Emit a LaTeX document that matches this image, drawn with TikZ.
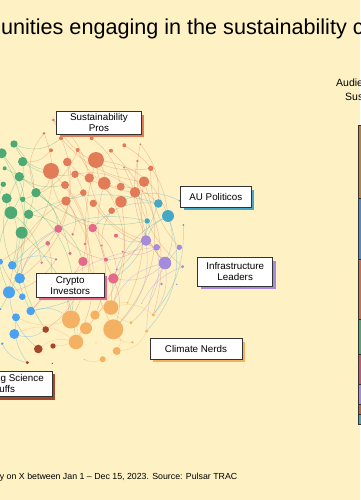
\documentclass[tikz,border=0pt]{standalone}
\usepackage{fontspec}
\setmainfont{Liberation Sans}
\usetikzlibrary{shadows}
\definecolor{bgc}{RGB}{254,242,197}
\definecolor{cR}{HTML}{E27B57}
\definecolor{cG}{HTML}{4DAA74}
\definecolor{cT}{HTML}{46A8C6}
\definecolor{cP}{HTML}{A68BDD}
\definecolor{cK}{HTML}{E56A8A}
\definecolor{cO}{HTML}{F4B163}
\definecolor{cB}{HTML}{A5472A}
\definecolor{cU}{HTML}{4BA3EF}
\definecolor{cTop}{HTML}{B98241}
\definecolor{cBar}{HTML}{4A8FCB}
\pgfdeclarelayer{bg}
\pgfdeclarelayer{edges}
\pgfsetlayers{bg,edges,main}
\tikzset{
  dot/.style={circle, inner sep=0pt, draw=none},
  edge/.style={line width=0.5pt, draw opacity=0.4},
  lab/.style={draw=black!80, fill=white, line width=0.8pt, align=center, inner sep=0pt,
    font=\fontsize{9.8}{11}\selectfont,
    general shadow={fill=#1, shadow xshift=3pt, shadow yshift=-3pt}},
  seg/.style={draw=black!80, line width=0.6pt}
}
\begin{document}
\begin{tikzpicture}[x=1pt,y=-1pt]
\useasboundingbox (0,0) rectangle (360,500);
\begin{pgfonlayer}{bg}
\fill[bgc] (0,0) rectangle (360,500);
\end{pgfonlayer}

% title and notes
\node[anchor=base west, inner sep=0pt, font=\fontsize{21.6}{24}\selectfont] (title) at (-62.7,35)
  {Communities engaging in the sustainability conversation};
\node[anchor=base west, inner sep=0pt, font=\fontsize{8.8}{10}\selectfont] (note) at (-0.3,479.5)
  {y on X between Jan 1 – Dec 15, 2023. Source: Pulsar TRAC};
\node[anchor=base west, inner sep=0pt, font=\fontsize{10.5}{12}\selectfont] (aud1) at (336,87) {Audience};
\node[anchor=base west, inner sep=0pt, font=\fontsize{10.5}{12}\selectfont] (aud2) at (345,101) {Sustainability};

% stacked bar
\fill[cTop] (358.5,125) rectangle (366,198);
\fill[cBar] (358.5,198) rectangle (366,259);
\fill[cR!90!black] (358.5,259) rectangle (366,319);
\fill[cG] (358.5,319) rectangle (366,354);
\fill[cK!85!black] (358.5,354) rectangle (366,384);
\fill[cP] (358.5,384) rectangle (366,404);
\fill[cB!70!cO] (358.5,404) rectangle (366,414);
\fill[cT] (358.5,414) rectangle (366,424);
\foreach \ya/\yb in {125/198,198/259,259/319,319/354,354/384,384/404,404/414,414/424}
  \draw[seg] (366,\ya) -- (358.5,\ya) -- (358.5,\yb) -- (366,\yb);

% dots
\foreach \n/\x/\y/\r/\c in {
 r1/53.3/120/1.5/cR, r2/44/133.3/1.5/cR, r3/61/138.3/2/cR, r4/91.7/138.3/2/cR,
 r5/51/150.3/2/cR, r6/77.7/150/2/cR, r7/111/150.7/2/cR, r8/124.3/145.3/2/cR,
 r9/140.3/144.3/1/cR, r10/96/160/8/cR, r11/67.3/162/4.3/cR, r12/51/171/8/cR,
 r13/75/174.3/3.7/cR, r14/89.3/178/4.7/cR, r15/104.3/183.3/6.3/cR, r16/120.7/186.7/4/cR,
 r17/144/181.7/5.3/cR, r18/150.7/168.3/2.7/cR, r19/137.3/161/1.3/cR, r20/124/167.7/1/cR,
 r21/65/185/4/cR, r22/83.3/192.7/3.3/cR, r23/66/201/4.7/cR, r24/93.3/203.3/3.7/cR,
 r25/121/201.7/5.7/cR, r26/135/192.3/5.3/cR, r27/111.7/210.7/3.3/cR,
 g1/14/144/3.7/cG, g2/1.7/153.3/5/cG, g3/22.7/161.7/4.7/cG, g4/4.7/168.3/2/cG,
 g5/19.3/176.7/4.7/cG, g6/3.3/184.3/2.7/cG, g7/36/192.7/4.7/cG, g8/6.7/198.3/5/cG,
 g9/22.7/199.3/2.7/cG, g10/11/212.7/6.3/cG, g11/28.7/214.3/4.7/cG, g12/21.7/232.7/6/cG,
 t1/158.3/203.5/4.3/cT, t2/168/216/6/cT, t3/147.2/221/2.7/cT, t4/183.3/225/1/cT, t5/179.3/200.7/1/cT,
 p1/146/240.5/5.3/cP, p2/156.7/247.3/3.3/cP, p3/179.3/247.3/2.7/cP, p4/165/263/6.3/cP,
 p5/182.5/266.7/1.7/cP, p6/161.5/284/1.3/cP, p7/176.7/284.3/0.8/cP,
 k1/58.3/228.8/4/cK, k2/92.7/228/4.3/cK, k3/72.7/234.3/1.3/cK, k4/116/235.7/2/cK,
 k5/47.7/243.3/2.3/cK, k6/85/244/1.3/cK, k7/101.7/245.5/1/cK, k8/70/253.3/1.7/cK,
 k9/56/259.3/1.3/cK, k10/41.7/262.7/1.3/cK, k11/83/261.5/4.7/cK, k12/106/259.7/2/cK,
 k13/116.7/269.3/1/cK, k14/113.3/278.5/5.2/cK, k15/122.7/251.7/1/cK,
 o1/111/307.5/7.3/cO, o2/95/315/4.7/cO, o3/71/319.5/9/cO, o4/86/328.3/6/cO,
 o5/113.3/329.3/10/cO, o6/76/342/7.3/cO, o7/116.7/351/4/cO, o8/102.7/359.2/3/cO,
 o9/127.7/302.7/1/cO, o10/131/322.7/1.7/cO, o11/146.7/331/1.7/cO, o12/153.3/314.8/1.7/cO,
 o13/141.7/303.3/0.7/cO, o14/132.3/342.3/1.3/cO, o15/84.3/359.5/0.7/cO, o16/96/342.7/0.7/cO,
 b1/45.7/329.5/3.3/cB, b2/53/346/2.7/cB, b3/38.3/349/4.3/cB, b4/27.3/362.5/1.7/cB, b5/52.3/363.3/0.7/cB,
 u1/0/261.7/3/cU, u2/12.3/265.3/4.3/cU, u3/19.7/278.3/5.3/cU, u4/9/292.3/6/cU,
 u5/22.3/296.7/3.3/cU, u6/30.7/311/4.3/cU, u7/16/317.3/4/cU, u8/0.5/309/1/cU,
 u9/14.3/334/5/cU, u10/2.2/343.7/1.3/cU}
  \node[dot, minimum size=2*\r, fill=\c] (\n) at (\x,\y) {};

% edges
\begin{pgfonlayer}{edges}
\foreach \a/\b/\bd/\c in {
 r10/r15/20/cR, r10/r25/-25/cR, r10/t2/30/cR, r10/o5/-20/cR, r12/g7/25/cR, r12/k2/-30/cR,
 r12/o3/35/cR, r11/r16/-20/cR, r13/r26/25/cR, r14/p1/-30/cR, r15/o1/25/cR, r15/k14/-20/cR,
 r16/t1/20/cR, r17/p4/-25/cR, r17/o5/30/cR, r21/k11/25/cR, r22/u4/-30/cR, r23/o6/30/cR,
 r24/p2/-20/cR, r25/o4/25/cR, r26/t3/20/cR, r27/k12/-25/cR, r1/r14/20/cR, r3/r17/-20/cR,
 r5/g3/25/cR, r6/r26/-30/cR, r8/t2/25/cR, r18/p3/-20/cR, r7/o12/30/cR, r4/r16/20/cR,
 r2/g7/-30/cR, r9/t1/20/cR, r19/p4/-25/cR, r11/u3/30/cR, r13/k6/20/cR,
 r1/r18/-35/cR, r2/u1/40/cR, r3/k5/30/cR, r9/p5/-30/cR, r20/o9/25/cR, r6/g9/25/cR,
 g1/r12/-25/cG, g3/g10/20/cG, g5/u3/-30/cG, g7/k1/25/cG, g8/u2/20/cG, g10/u4/-25/cG,
 g11/k11/30/cG, g12/u6/-20/cG, g2/g12/25/cG, g5/r21/-20/cG, g9/o3/30/cG, g11/b1/-25/cG,
 g12/o6/20/cG, g6/u5/-30/cG, g4/k8/25/cG, g3/r13/-20/cG, g1/g11/30/cG,
 g2/u8/30/cG, g7/t3/-25/cG, g10/k10/20/cG, g1/r3/-30/cG,
 t1/k2/-25/cT, t2/p4/20/cT, t2/o1/-30/cT, t3/k14/25/cT, t2/p1/-20/cT, t1/u6/30/cT,
 t4/o12/20/cT, t5/r25/-25/cT, t3/u2/-30/cT, t2/o11/30/cT, t1/g11/-20/cT,
 p1/k4/20/cP, p4/o1/-25/cP, p2/o10/30/cP, p4/o12/20/cP, p3/o11/-20/cP, p1/o5/25/cP,
 p5/o13/-20/cP, p4/k14/25/cP, p2/u6/-20/cP,
 k1/u3/-20/cK, k2/o2/25/cK, k11/o3/-25/cK, k14/o5/20/cK, k5/u6/30/cK, k12/p1/-20/cK,
 k11/b1/25/cK, k3/r23/-30/cK, k9/u4/20/cK, k15/p2/-25/cK, k2/k13/20/cK, k1/k12/-20/cK,
 o3/u7/20/cO, o6/b3/-25/cO, o5/o7/30/cO, o1/o10/-20/cO, o4/b2/25/cO, o6/u9/-30/cO,
 o2/o9/20/cO, o5/o14/-25/cO, o8/o15/20/cO, o3/o6/25/cO, o7/o11/-30/cO, o1/o12/25/cO,
 u4/b3/-20/cU, u6/o3/25/cU, u9/b1/-25/cU, u3/k5/20/cU, u7/b4/-20/cU, u2/k9/25/cU, u10/b4/-25/cU}
  \draw[edge, draw=\c] (\a) to[bend left=\bd] (\b);
\end{pgfonlayer}

% labels
\node[lab=cR, minimum width=84.6, minimum height=22.3] (lsp) at (99,122.8) {Sustainability\\Pros};
\node[lab=cT, minimum width=70.3, minimum height=20.6] (lau) at (215.8,197) {AU Politicos};
\node[lab=cP, minimum width=75, minimum height=28.3] (lin) at (235.2,271.8) {Infrastructure\\Leaders};
\node[lab=cK, minimum width=68.3, minimum height=24] (lcr) at (70.2,285.3) {Crypto\\Investors};
\node[lab=cO, minimum width=92, minimum height=20.6] (lcn) at (196,349) {Climate Nerds};
\node[lab=cB, minimum width=96.6, minimum height=25.7] (les) at (4,383.8) {Emerging Science\\Buffs};
\end{tikzpicture}
\end{document}
